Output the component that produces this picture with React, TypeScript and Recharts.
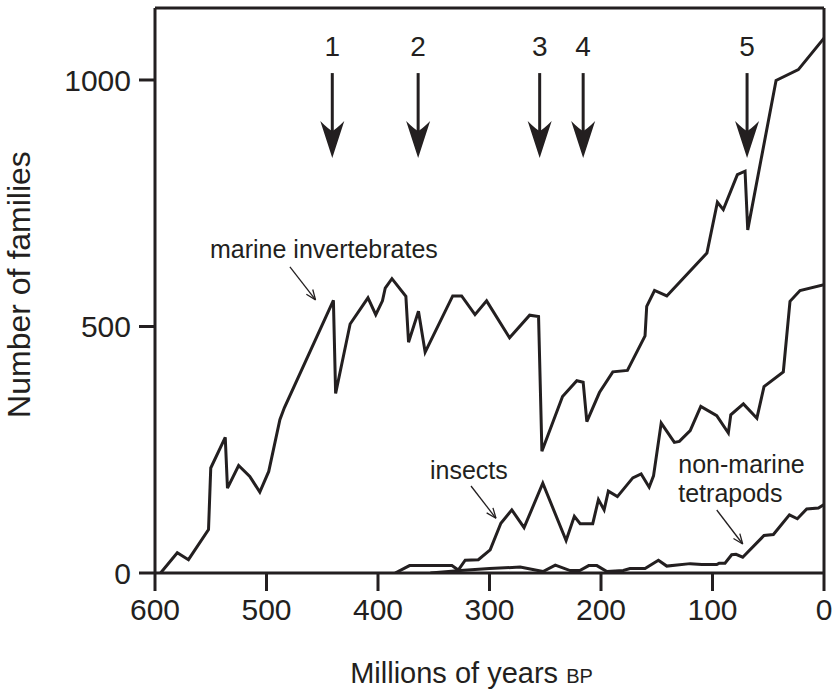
import React from 'react';
import { LineChart, Line, XAxis, YAxis, ReferenceLine, ReferenceDot, Label } from 'recharts';

const INK = '#231f20';
const FONT = '"Liberation Sans", Arial, Helvetica, sans-serif';

// Age in millions of years before present, and number of families at that age.
const marineAges = [595, 580, 570, 552, 550, 537, 535, 525, 515, 506, 498, 488, 484, 440, 438, 425, 409, 402, 396, 393.5, 387.5, 375, 372.6, 363.7, 357.7, 333, 325, 313, 302.6, 282, 264, 256, 253, 234.5, 221.7, 216, 212.7, 201.4, 189.4, 176.3, 160.5, 159, 152, 141, 105, 95.6, 90.3, 77.7, 70.8, 68.4, 43, 23, 0];
const marineFamilies = [0, 41, 27, 88, 213, 275, 172, 218, 196, 164, 206, 311, 335, 553, 364, 505, 558, 524, 552, 578, 597, 561, 468, 531, 448, 562, 562, 524, 552, 477, 523, 520, 247, 358, 390, 387, 307, 366, 408, 411, 481, 541, 573, 562, 649, 752, 737, 808, 815, 696, 999, 1021, 1085];

const insectAges = [384.6, 371.7, 333.7, 328, 321.8, 310, 299.4, 289.8, 280, 269, 252.2, 231.3, 223.9, 218.7, 207.4, 202.3, 197.2, 193.4, 185.3, 171.5, 164, 156.8, 152.9, 146, 134.2, 129.7, 120, 110.5, 96.2, 85.8, 83.6, 72.3, 60.2, 53.8, 36.5, 30.5, 21.5, 0];
const insectFamilies = [0, 15, 15, 6, 26, 27, 47, 101, 128, 92, 182, 66, 115, 100, 100, 149, 128, 166, 155, 193, 201, 174, 197, 304, 265, 267, 289, 338, 319, 284, 321, 343, 314, 378, 408, 551, 573, 585];

const tetrapodAges = [353, 326, 300, 272.5, 252, 241, 227.7, 219, 211, 203.7, 194.7, 180, 174, 160.5, 148.5, 141, 120, 109.6, 96.2, 94, 88.8, 82.8, 78.9, 72.9, 53.8, 45.4, 31, 23.9, 15.5, 5, 0];
const tetrapodFamilies = [0, 5, 9, 12, 3, 16, 5, 5, 15, 15, 3, 5, 9, 9, 26, 14, 19, 17, 17, 20, 20, 37, 38, 32, 76, 78, 118, 110, 130, 132, 139];

// Mass extinction events marked by arrows above the curves.
const extinctionAges = [441, 364, 255, 216, 69];
const extinctionLabels = ['1', '2', '3', '4', '5'];
const arrowTopValue = 1014;
const arrowTipValue = 842;
const arrowLabelValue = 1049;

const xTicks = [0, 100, 200, 300, 400, 500, 600];
const yTicks = [0, 500, 1000];
const yMax = 1146;

// Series captions with pointer lines: caption anchor and pointer start/end.
const captions = [
  { lines: ['marine invertebrates'], age: 550.7, value: 638, from: [479, 621], to: [456, 554], angle: 53 },
  { lines: ['insects'], age: 353.4, value: 190, from: [316.6, 176.5], to: [294.2, 111], angle: 52 },
  { lines: ['non-marine', 'tetrapods'], age: 130.7, value: 203.4, from: [96.2, 127.8], to: [72.9, 58.8], angle: 52.6 },
];

const toPoints = (ages: number[], counts: number[]) => ages.map((age, i) => ({ age, families: counts[i] }));
const marine = toPoints(marineAges, marineFamilies);
const insects = toPoints(insectAges, insectFamilies);
const tetrapods = toPoints(tetrapodAges, tetrapodFamilies);

const ArrowHead = (props: any) => {
  const { cx, cy } = props;
  return (
    <path
      d={`M${cx},${cy} L${cx - 12},${cy - 37} Q${cx - 4},${cy - 29} ${cx},${cy - 27} Q${cx + 4},${cy - 29} ${cx + 12},${cy - 37} Z`}
      fill={INK}
    />
  );
};

const PointerHead = (angle: number) => (props: any) => {
  const { cx, cy } = props;
  return (
    <g transform={`translate(${cx},${cy}) rotate(${angle})`}>
      <path d="M0,0 L-10,-4 M0,0 L-10,4" stroke={INK} strokeWidth={1.3} fill="none" />
    </g>
  );
};

const NumberText = (label: string) => (props: any) => (
  <text x={props.cx} y={props.cy} textAnchor="middle" fontSize={28} fontFamily={FONT} fill={INK}>
    {label}
  </text>
);

const CaptionText = (lines: string[]) => (props: any) => (
  <text x={props.cx} y={props.cy} fontSize={25} fontFamily={FONT} fill={INK}>
    {lines.map((l, i) => (
      <tspan key={i} x={props.cx} dy={i === 0 ? 0 : 29}>
        {l}
      </tspan>
    ))}
  </text>
);

const tickStyle = { fontSize: 30, fontFamily: FONT, fill: INK };
const axisStroke = { stroke: INK, strokeWidth: 3 };

export default function App() {
  return (
    <div style={{ position: 'absolute', left: 0, top: 0, background: '#fff' }}>
      <LineChart width={834} height={692} margin={{ top: 8, right: 10, bottom: 0, left: 0 }}>
        <XAxis
          type="number"
          dataKey="age"
          domain={[0, 600]}
          reversed
          ticks={xTicks}
          height={119}
          tickSize={18}
          tickMargin={8}
          tick={tickStyle}
          axisLine={axisStroke}
          tickLine={axisStroke}
          allowDataOverflow
        >
          <Label
            content={(p: any) => {
              const vb = p.viewBox;
              return (
                <text x={vb.x + vb.width / 2 - 18} y={vb.y + 110} textAnchor="middle" fontSize={29} fontFamily={FONT} fill={INK}>
                  Millions of years <tspan fontSize={20}>BP</tspan>
                </text>
              );
            }}
          />
        </XAxis>
        <YAxis
          type="number"
          domain={[0, yMax]}
          ticks={yTicks}
          width={155}
          tickSize={16}
          tickMargin={8}
          tick={tickStyle}
          axisLine={axisStroke}
          tickLine={axisStroke}
          allowDataOverflow
        >
          <Label
            content={(p: any) => {
              const vb = p.viewBox;
              const cx = vb.x + 30;
              const cy = vb.y + vb.height / 2 - 6;
              return (
                <text x={cx} y={cy} transform={`rotate(-90 ${cx} ${cy})`} textAnchor="middle" fontSize={32} fontFamily={FONT} fill={INK}>
                  Number of families
                </text>
              );
            }}
          />
        </YAxis>

        <ReferenceLine y={yMax} stroke={INK} strokeWidth={3} ifOverflow="visible" />
        <ReferenceLine x={0} stroke={INK} strokeWidth={3} ifOverflow="visible" />

        <Line data={marine} dataKey="families" stroke={INK} strokeWidth={3} dot={false} isAnimationActive={false} type="linear" />
        <Line data={insects} dataKey="families" stroke={INK} strokeWidth={3} dot={false} isAnimationActive={false} type="linear" />
        <Line data={tetrapods} dataKey="families" stroke={INK} strokeWidth={3} dot={false} isAnimationActive={false} type="linear" />

        {extinctionAges.map((age, i) => (
          <ReferenceLine
            key={`shaft-${i}`}
            segment={[{ x: age, y: arrowTopValue }, { x: age, y: arrowTipValue + 40 }]}
            stroke={INK}
            strokeWidth={3}
            ifOverflow="visible"
          />
        ))}
        {extinctionAges.map((age, i) => (
          <ReferenceDot key={`head-${i}`} x={age} y={arrowTipValue} r={0} shape={ArrowHead} ifOverflow="visible" />
        ))}
        {extinctionAges.map((age, i) => (
          <ReferenceDot key={`num-${i}`} x={age} y={arrowLabelValue} r={0} shape={NumberText(extinctionLabels[i])} ifOverflow="visible" />
        ))}

        {captions.map((c, i) => (
          <ReferenceLine
            key={`ptr-${i}`}
            segment={[{ x: c.from[0], y: c.from[1] }, { x: c.to[0], y: c.to[1] }]}
            stroke={INK}
            strokeWidth={1.3}
            ifOverflow="visible"
          />
        ))}
        {captions.map((c, i) => (
          <ReferenceDot key={`ptrhead-${i}`} x={c.to[0]} y={c.to[1]} r={0} shape={PointerHead(c.angle)} ifOverflow="visible" />
        ))}
        {captions.map((c, i) => (
          <ReferenceDot key={`cap-${i}`} x={c.age} y={c.value} r={0} shape={CaptionText(c.lines)} ifOverflow="visible" />
        ))}
      </LineChart>
    </div>
  );
}
